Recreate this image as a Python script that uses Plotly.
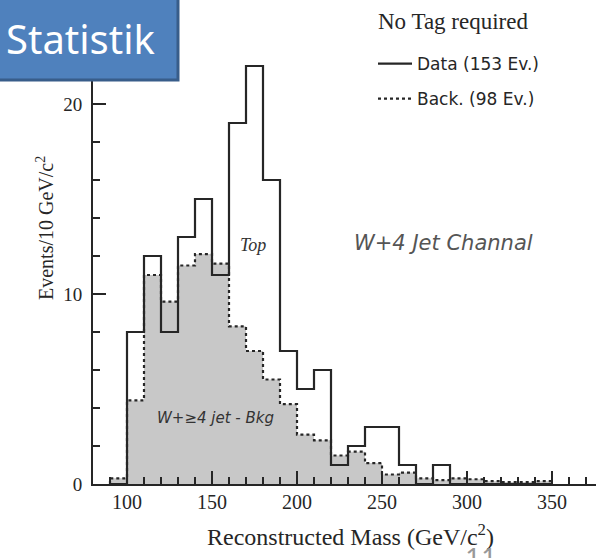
import plotly.graph_objects as go

# ---------------- data ----------------
bin_width = 10
bin_left = list(range(90, 350, 10))  # 90 ... 340 GeV/c^2
data_counts = [0, 8, 12, 8, 13, 15, 11, 19, 22, 16, 7, 5, 6, 1, 2, 3, 3, 1, 0, 1,
               0, 0, 0, 0, 0, 0]
bkg_counts = [0.3, 4.4, 11.0, 9.6, 11.5, 12.1, 11.6, 8.3, 7.0, 5.5, 4.2, 2.6, 2.3,
              1.5, 1.7, 1.1, 0.5, 0.6, 0.3, 0.2, 0.3, 0.25, 0.15, 0.1, 0.1, 0.15]
data_name = "Data (153 Ev.)"
bkg_name = "Back. (98 Ev.)"
x_ticks = [100, 150, 200, 250, 300, 350]
y_ticks = [0, 10, 20]

# --------------- geometry ---------------
W, H = 596, 558
L, R, T, B = 93, 0, 57, 74
pw, ph = W - L - R, H - T - B
px_per_x = 1.7   # pixels per GeV
px_per_y = 19.0  # pixels per event
x0 = 80
xr = [x0, x0 + pw / px_per_x]
yr = [0, ph / px_per_y]


def px(xp):
    return (xp - L) / pw


def py(yp):
    return (H - B - yp) / ph


edges_x = [bin_left[0]] + bin_left + [bin_left[-1] + bin_width]
data_y = [0] + data_counts + [0]
bkg_y = [0] + bkg_counts + [0]

ink = "#262626"

fig = go.Figure()
# background fill
fig.add_trace(go.Scatter(x=edges_x, y=bkg_y, mode="lines", line_shape="hv",
                         line=dict(width=0, color="rgba(0,0,0,0)"),
                         fill="tozeroy", fillcolor="#c8c8c8",
                         showlegend=False, hoverinfo="skip"))
# data outline
fig.add_trace(go.Scatter(x=edges_x, y=data_y, mode="lines", line_shape="hv",
                         line=dict(width=2.2, color=ink),
                         name=data_name, legendgroup="a"))
# background dotted outline
fig.add_trace(go.Scatter(x=edges_x, y=bkg_y, mode="lines", line_shape="hv",
                         line=dict(width=2.2, color=ink, dash="dot"),
                         name=bkg_name, legendgroup="b"))

serif = "Liberation Serif"

fig.update_layout(
    width=W, height=H,
    margin=dict(l=L, r=R, t=T, b=B, autoexpand=False),
    paper_bgcolor="white", plot_bgcolor="white",
    showlegend=True,
    legend=dict(x=px(373), y=py(46), xanchor="left", yanchor="top",
                bgcolor="rgba(0,0,0,0)", borderwidth=0,
                font=dict(family="DejaVu Sans", size=17, color=ink),
                tracegroupgap=10, itemwidth=34),
    xaxis=dict(range=xr, showgrid=False, zeroline=False,
               showline=True, linewidth=2, linecolor=ink,
               tickmode="array", tickvals=x_ticks,
               ticks="inside", ticklen=13, tickwidth=2, tickcolor=ink,
               minor=dict(dtick=10, tick0=100, ticks="inside", ticklen=7,
                          tickwidth=1.5, tickcolor=ink, showgrid=False),
               tickfont=dict(family=serif, size=20, color=ink),
               ticklabelstandoff=-1,
               automargin=False),
    yaxis=dict(range=yr, showgrid=False, zeroline=False,
               showline=True, linewidth=2, linecolor=ink,
               tickmode="array", tickvals=y_ticks,
               ticks="inside", ticklen=13, tickwidth=2, tickcolor=ink,
               minor=dict(dtick=2, tick0=0, ticks="inside", ticklen=7,
                          tickwidth=1.5, tickcolor=ink, showgrid=False),
               tickfont=dict(family=serif, size=19, color=ink),
               ticklabelstandoff=5,
               automargin=False),
)

# "Statistik" slide label box
fig.add_shape(type="rect", xref="paper", yref="paper",
              x0=px(-6), x1=px(178), y0=py(80), y1=py(-6),
              fillcolor="#4f81bd", line=dict(color="#385d8a", width=3),
              layer="above")

annos = [
    dict(text="Statistik", x=px(80), y=py(39), xref="paper", yref="paper",
         font=dict(family="Noto Sans", size=40, color="white")),
    dict(text="No Tag required", x=px(376), y=py(22), xref="paper", yref="paper",
         xanchor="left", font=dict(family=serif, size=23, color=ink)),
    dict(text="Reconstructed Mass (GeV/c<sup>2</sup>)", x=px(350), y=py(535),
         xref="paper", yref="paper",
         font=dict(family=serif, size=24, color=ink)),
    dict(text="Events/10 GeV/c<sup>2</sup>", x=px(45), y=py(228),
         xref="paper", yref="paper", textangle=-90,
         font=dict(family=serif, size=20, color=ink)),
    dict(text="<i>Top</i>", x=174, y=12.6, xref="x", yref="y",
         font=dict(family=serif, size=18, color="#333")),
    dict(text="<i>W+4 Jet Channal</i>", x=286, y=12.7, xref="x", yref="y",
         font=dict(family="DejaVu Sans", size=21, color="#555")),
    dict(text="<i>W+\u22654 jet - Bkg</i>", x=152, y=3.5, xref="x", yref="y",
         font=dict(family="DejaVu Sans", size=15, color="#333")),
    dict(text="11", x=px(481), y=py(557), xref="paper", yref="paper",
         font=dict(family="Noto Sans", size=28, color="#999")),
]
for a in annos:
    a.setdefault("xanchor", "center")
    a.setdefault("yanchor", "middle")
    fig.add_annotation(showarrow=False, **a)

fig.write_html("out.html", config={"displayModeBar": False},
               post_script="document.body.style.margin='0';document.body.style.overflow='hidden';")
